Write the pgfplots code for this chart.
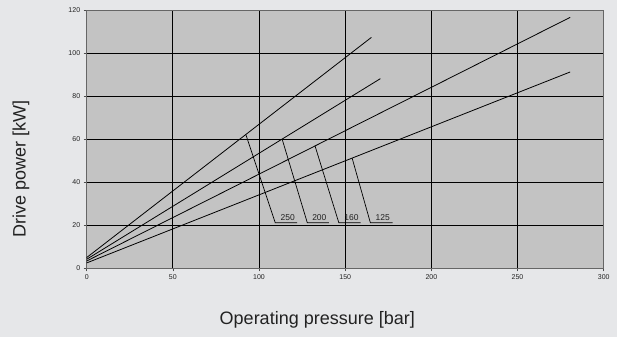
\documentclass[border=0pt]{standalone}
\usepackage{pgfplots}
\pgfplotsset{compat=1.18}
\usepackage{fontspec}
\setmainfont{Liberation Sans}
\usetikzlibrary{backgrounds}
\definecolor{outerbg}{HTML}{E6E7E9}
\definecolor{plotbg}{HTML}{C3C3C3}
\definecolor{txt}{HTML}{222222}
\begin{document}
\begin{tikzpicture}
\begin{axis}[
  scale only axis,
  width=517pt, height=258pt,
  at={(0,0)}, anchor=south west,
  xmin=0, xmax=300, ymin=0, ymax=120,
  xtick={0,50,...,300}, ytick={0,20,...,120},
  xtick pos=bottom, ytick pos=left,
  tick align=outside, major tick length=3pt,
  tick style={black!70, line width=0.6pt},
  grid=major,
  major grid style={black, line width=0.8pt},
  axis line style={black!60, line width=0.8pt},
  axis background/.style={fill=plotbg},
  ticklabel style={font=\fontsize{7}{8}\selectfont, text=txt},
  /pgf/number format/assume math mode=true,
  xlabel={Operating pressure [bar]},
  ylabel={Drive power [kW]},
  xlabel style={at={(axis description cs:0.446,-0.2)}, anchor=center, font=\fontsize{18}{20}\selectfont, text=txt},
  ylabel style={at={(axis description cs:-0.127,0.385)}, anchor=center, font=\fontsize{18}{20}\selectfont, text=txt},
  clip=false,
]
% characteristic lines
\addplot[black, line width=0.8pt] coordinates {(0,5.0) (165.2,107.4)};
\addplot[black, line width=0.8pt] coordinates {(0,4.2) (170.4,88.2)};
\addplot[black, line width=0.8pt] coordinates {(0,3.4) (280.5,116.7)};
\addplot[black, line width=0.8pt] coordinates {(0,2.5) (280.5,91.3)};
% leaders
\addplot[black, line width=0.7pt] coordinates {(92.4,62.1) (109.4,21.2) (122.1,21.2)};
\addplot[black, line width=0.7pt] coordinates {(113.4,60.1) (128.0,21.2) (140.5,21.2)};
\addplot[black, line width=0.7pt] coordinates {(132.5,56.9) (146.3,21.2) (158.9,21.2)};
\addplot[black, line width=0.7pt] coordinates {(154.0,51.3) (164.6,21.2) (177.5,21.2)};
\node[font=\fontsize{8.5}{9}\selectfont, text=txt, anchor=base] at (axis cs:116.6,22.3) {250};
\node[font=\fontsize{8.5}{9}\selectfont, text=txt, anchor=base] at (axis cs:135.0,22.3) {200};
\node[font=\fontsize{8.5}{9}\selectfont, text=txt, anchor=base] at (axis cs:153.7,22.3) {160};
\node[font=\fontsize{8.5}{9}\selectfont, text=txt, anchor=base] at (axis cs:171.8,22.3) {125};
\end{axis}
\begin{scope}[on background layer]
\fill[outerbg] (-86.7pt,-68.7pt) rectangle (530.3pt,268.3pt);
\end{scope}
\end{tikzpicture}
\end{document}
